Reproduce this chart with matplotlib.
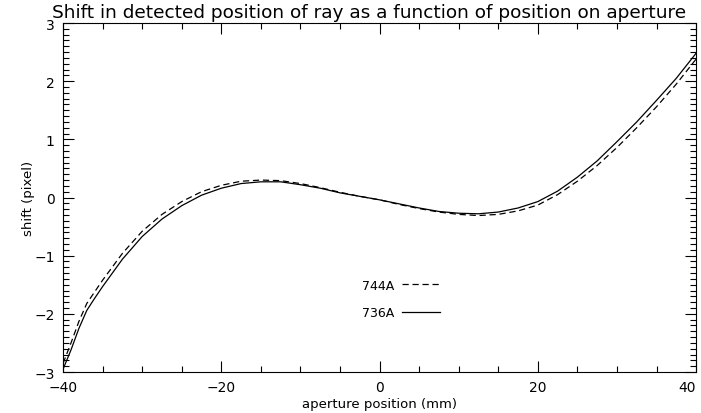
import matplotlib
matplotlib.use("Agg")
import matplotlib.pyplot as plt
from matplotlib.ticker import MultipleLocator

# aperture position (mm) and measured shift (pixel) for the two wavelengths
pos = [-40, -39, -38, -37, -36, -35, -32.5, -30, -27.5, -25, -22.5, -20, -17.5,
       -15, -12.5, -10, -7.5, -5, -2.5, 0, 2.5, 5, 7.5, 10, 12.5, 15, 17.5,
       20, 22.5, 25, 27.5, 30, 32.5, 35, 37.5, 40]
shift_736 = [-2.95, -2.62, -2.25, -1.94, -1.73, -1.53, -1.06, -0.67, -0.37,
             -0.14, 0.04, 0.16, 0.24, 0.27, 0.27, 0.22, 0.16, 0.08, 0.02,
             -0.04, -0.11, -0.18, -0.24, -0.27, -0.28, -0.25, -0.18, -0.07,
             0.11, 0.35, 0.63, 0.96, 1.3, 1.67, 2.05, 2.48]
shift_744 = [-2.85, -2.5, -2.13, -1.82, -1.62, -1.42, -0.96, -0.58, -0.29,
             -0.07, 0.1, 0.21, 0.28, 0.3, 0.29, 0.24, 0.17, 0.09, 0.02,
             -0.04, -0.12, -0.19, -0.25, -0.29, -0.31, -0.29, -0.23, -0.13,
             0.05, 0.28, 0.55, 0.86, 1.2, 1.56, 1.95, 2.38]
xticks = [-40, -20, 0, 20, 40]
yticks = [-3, -2, -1, 0, 1, 2, 3]

fig = plt.figure(figsize=(7.01, 4.14), dpi=100)
ax = fig.add_axes([0.09, 0.099, 0.903, 0.843])

ax.plot(pos, shift_744, color="black", lw=0.9, dashes=(5, 3), label="744A")
ax.plot(pos, shift_736, color="black", lw=0.9, label="736A")

ax.set_xlim(-40, 40)
ax.set_ylim(-3, 3)
ax.set_xticks(xticks)
ax.set_yticks(yticks)
ax.xaxis.set_minor_locator(MultipleLocator(5))
ax.yaxis.set_minor_locator(MultipleLocator(0.1))
ax.tick_params(which="both", direction="in", top=True, right=True,
               labelsize=10, width=0.8)
ax.tick_params(which="major", length=8, pad=6)
ax.tick_params(which="minor", length=4)
for sp in ax.spines.values():
    sp.set_linewidth(0.8)

# keep the last x label inside the figure
ax.xaxis.get_major_ticks()[-1].label1.set_horizontalalignment("right")

ax.set_title("Shift in detected position of ray as a function of position on aperture",
             fontsize=13.3, pad=4, x=0.484)
ax.set_xlabel("aperture position (mm)", fontsize=9.5, labelpad=2)
ax.set_ylabel("shift (pixel)", fontsize=9.5)
ax.yaxis.set_label_coords(-0.045, 0.5)

# legend: label on the left, line sample on the right
ax.legend(loc="lower left", bbox_to_anchor=(0.455, 0.119), frameon=False,
          markerfirst=False, handlelength=3.0, handletextpad=0.6,
          labelspacing=1.15, fontsize=9)

fig.savefig("out.png", dpi=100)
